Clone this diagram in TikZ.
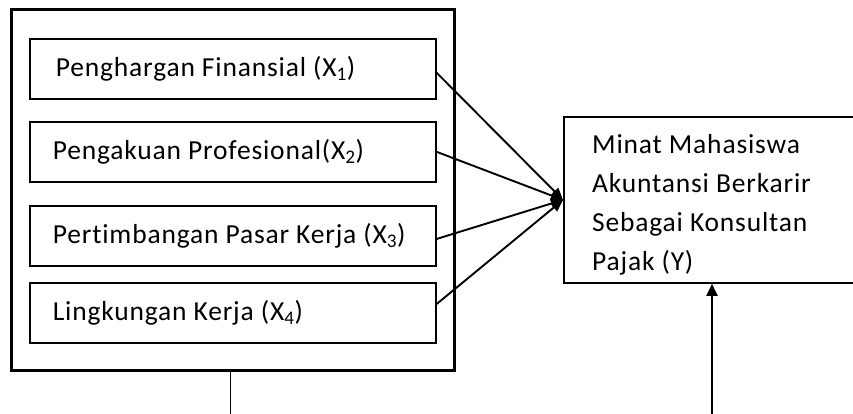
\documentclass[tikz,border=0pt]{standalone}
\usepackage{fontspec}
\setmainfont{Carlito}[Ligatures=NoCommon,LetterSpace=3]
\usetikzlibrary{arrows.meta}
\begin{document}
\begin{tikzpicture}[x=1pt,y=-1pt,
  lbl/.style={font=\fontsize{27.5}{39}\selectfont},
  varbox/.style={draw,line width=1.8pt,anchor=north west,minimum width=406pt,minimum height=60pt,
    text width=360pt,inner xsep=23pt,align=left,lbl,
    execute at begin node={\spaceskip=0pt\xspaceskip=0pt}},
  conn/.style={line width=1.9pt,-{Triangle[length=12pt,width=10pt]}}]
\useasboundingbox (0,0) rectangle (853,414);
\node[draw,line width=2.8pt,anchor=north west,minimum width=443pt,minimum height=361pt] (outer) at (10,8) {};
\node[varbox,inner xsep=26pt,text width=354pt] (x1) at (29,38) {Penghargan Finansial (X\textsubscript{1})};
\node[varbox] (x2) at (29,121) {Pengakuan Profesional(X\textsubscript{2})};
\node[varbox] (x3) at (29,205) {Pertimbangan Pasar Kerja (X\textsubscript{3})};
\node[varbox] (x4) at (29,282) {Lingkungan Kerja (X\textsubscript{4})};
\begin{scope}
\clip (0,0) rectangle (853,414);
\node[draw,line width=1.8pt,anchor=north west,minimum width=320pt,minimum height=166pt] (y) at (563,116) {};
\end{scope}
\node[lbl,align=left,anchor=west,inner sep=0pt] (ytext) at (592,205)
  {Minat Mahasiswa\\Akuntansi Berkarir\\Sebagai Konsultan\\Pajak (Y)};
\draw[conn] ([yshift=-4pt]x1.east) -- (y.west);
\draw[conn] (x2.east) -- (y.west);
\draw[conn] ([yshift=-3pt]x3.east) -- (y.west);
\draw[conn] ([yshift=9pt]x4.east) -- (y.west);
\coordinate (b1) at (230,414);
\draw[line width=0.9pt] (outer.south -| b1) -- (b1);
\coordinate (b2) at (712,414);
\draw[line width=1.9pt,-{Triangle[length=12pt,width=11pt]}] (b2) -- (y.south -| b2);
\end{tikzpicture}
\end{document}
